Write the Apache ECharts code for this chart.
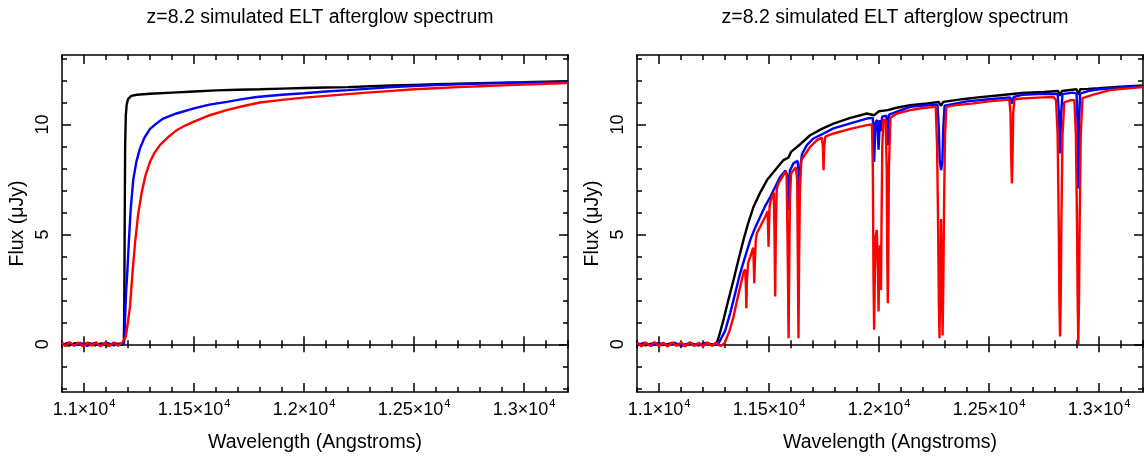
<!DOCTYPE html>
<html><head><meta charset="utf-8">
<script src="https://cdn.jsdelivr.net/npm/echarts@6/dist/echarts.min.js"></script>
<style>html,body{margin:0;padding:0;background:#fff}#c{width:1144px;height:459px}</style>
</head><body><div id="c"></div>
<script>
// ---------------- data (wavelength in Angstroms, flux in microJy) ----------------
const titleText = 'z=8.2 simulated ELT afterglow spectrum';
const xName = 'Wavelength (Angstroms)';
const yName = 'Flux (\u03bcJy)';
const xMajorTicks = [11000, 11500, 12000, 12500, 13000];
const xMinorTicks = [10900, 11100, 11200, 11300, 11400, 11600, 11700, 11800, 11900, 12100, 12200, 12300, 12400, 12600, 12700, 12800, 12900, 13100, 13200];
const yMajorTicks = [0, 5, 10];
const yMinorTicks = [-2, -1, 1, 2, 3, 4, 6, 7, 8, 9, 11, 12, 13];

const leftBlack = [[10900,0.03],[10930,-0.06],[10960,0.05],[10990,-0.04],[11020,0.06],[11050,-0.05],[11080,0.04],[11110,-0.06],[11140,0.05],[11170,-0.03],[11181,0.05],[11183,1.5],[11185,5.5],[11187,9.0],[11190,10.4],[11194,10.9],[11200,11.15],[11215,11.3],[11240,11.35],[11300,11.4],[11400,11.45],[11500,11.5],[11600,11.55],[11700,11.58],[11800,11.6],[11900,11.63],[12000,11.66],[12100,11.68],[12200,11.7],[12300,11.74],[12400,11.77],[12500,11.8],[12600,11.83],[12700,11.86],[12800,11.88],[12900,11.9],[13000,11.92],[13100,11.95],[13200,11.97]];
const leftBlue = [[10900,-0.04],[10925,0.07],[10955,-0.05],[10985,0.06],[11015,-0.07],[11045,0.05],[11075,-0.04],[11105,0.06],[11135,-0.05],[11165,0.04],[11182,0.05],[11186,1.0],[11191,2.3],[11197,3.3],[11204,4.7],[11212,6.1],[11224,7.5],[11238,8.3],[11254,8.9],[11275,9.4],[11300,9.8],[11330,10.05],[11360,10.27],[11420,10.5],[11500,10.73],[11570,10.9],[11650,11.03],[11720,11.15],[11785,11.25],[11900,11.35],[12000,11.42],[12100,11.5],[12200,11.56],[12300,11.63],[12400,11.7],[12500,11.75],[12600,11.79],[12700,11.83],[12800,11.86],[12900,11.88],[13000,11.9],[13100,11.92],[13200,11.94]];
const leftRed = [[10900,0.06],[10915,-0.08],[10935,0.1],[10955,-0.07],[10975,0.09],[10995,-0.1],[11015,0.08],[11035,-0.06],[11055,0.1],[11075,-0.09],[11095,0.07],[11115,-0.08],[11135,0.09],[11155,-0.07],[11175,0.08],[11183,0.05],[11190,0.35],[11198,0.9],[11209,1.7],[11220,3.2],[11232,4.6],[11246,5.9],[11262,6.9],[11280,7.7],[11300,8.3],[11320,8.7],[11345,9.06],[11380,9.4],[11421,9.74],[11460,9.95],[11497,10.12],[11572,10.42],[11648,10.65],[11720,10.83],[11800,11.0],[11900,11.12],[12000,11.22],[12100,11.3],[12200,11.38],[12300,11.46],[12400,11.53],[12500,11.6],[12600,11.65],[12700,11.7],[12800,11.74],[12900,11.78],[13000,11.82],[13100,11.85],[13200,11.88]];

const rightBlack = [[10900,0.04],[10940,-0.05],[10980,0.06],[11020,-0.04],[11060,0.05],[11100,-0.06],[11140,0.04],[11180,-0.05],[11220,0.05],[11250,-0.03],[11262,0.05],[11272,0.35],[11282,0.7],[11293,1.11],[11315,2.0],[11339,2.93],[11360,3.8],[11384,4.75],[11405,5.5],[11430,6.26],[11460,6.9],[11491,7.47],[11530,7.95],[11566,8.38],[11589,8.5],[11600,8.75],[11642,9.1],[11687,9.51],[11740,9.8],[11793,10.04],[11870,10.3],[11945,10.5],[11978,10.42],[12000,10.6],[12040,10.65],[12080,10.76],[12142,10.88],[12220,10.96],[12272,11.02],[12282,10.85],[12292,11.03],[12380,11.15],[12450,11.23],[12550,11.33],[12649,11.43],[12750,11.48],[12815,11.52],[12823,11.3],[12831,11.52],[12898,11.6],[12906,11.35],[12914,11.6],[12950,11.62],[13000,11.65],[13100,11.72],[13200,11.78]];
const rightBlue = [[10900,-0.05],[10930,0.06],[10965,-0.06],[11000,0.05],[11035,-0.05],[11070,0.07],[11105,-0.06],[11140,0.05],[11175,-0.04],[11210,0.06],[11245,-0.05],[11270,0.03],[11278,0.05],[11300,0.6],[11324,1.43],[11347,2.35],[11369,3.24],[11392,4.0],[11415,4.75],[11437,5.3],[11460,5.8],[11483,6.3],[11506,6.71],[11530,7.2],[11551,7.62],[11575,7.9],[11583,7.7],[11589,6.1],[11595,7.9],[11611,8.23],[11630,8.35],[11635,7.8],[11639,6.5],[11644,8.2],[11650,8.65],[11672,9.06],[11700,9.35],[11750,9.6],[11793,9.82],[11870,10.05],[11945,10.27],[11972,10.3],[11978,8.3],[11984,10.1],[11992,10.2],[11998,8.85],[12004,10.2],[12009,9.7],[12014,10.35],[12034,10.4],[12040,9.06],[12046,10.45],[12100,10.65],[12142,10.8],[12200,10.86],[12266,10.9],[12272,9.8],[12276,8.4],[12282,7.92],[12288,8.3],[12292,9.8],[12298,10.85],[12400,11.05],[12500,11.15],[12596,11.23],[12604,10.95],[12612,11.25],[12649,11.35],[12750,11.4],[12812,11.38],[12818,10.5],[12823,8.68],[12828,10.5],[12834,11.38],[12880,11.45],[12898,11.4],[12902,10.2],[12906,7.09],[12910,10.2],[12914,11.4],[12950,11.52],[13000,11.6],[13100,11.68],[13200,11.74]];
const rightRed = [[10900,0.07],[10920,-0.09],[10940,0.08],[10960,-0.07],[10980,0.1],[11000,-0.08],[11020,0.07],[11040,-0.1],[11060,0.09],[11080,-0.07],[11100,0.08],[11120,-0.09],[11140,0.1],[11160,-0.08],[11180,0.07],[11200,-0.09],[11220,0.08],[11240,-0.07],[11260,0.09],[11280,-0.08],[11298,0.05],[11306,0.05],[11320,0.6],[11339,1.26],[11355,2.0],[11369,2.62],[11385,3.3],[11392,3.4],[11395,2.6],[11397,1.64],[11400,2.9],[11405,3.7],[11415,3.99],[11428,4.4],[11431,3.6],[11433,2.78],[11436,3.8],[11440,4.75],[11445,5.05],[11465,5.45],[11483,5.8],[11494,6.05],[11496,5.2],[11498,4.44],[11500,5.4],[11503,6.3],[11510,6.6],[11522,6.9],[11525,5.0],[11528,2.17],[11531,5.0],[11535,7.05],[11543,7.32],[11560,7.6],[11574,7.85],[11580,7.7],[11584,5.0],[11586,3.3],[11589,0.28],[11592,3.5],[11595,6.5],[11600,7.75],[11611,7.92],[11622,8.05],[11628,7.5],[11631,4.0],[11634,0.28],[11637,4.0],[11641,7.5],[11648,8.4],[11657,8.53],[11687,8.98],[11718,9.29],[11740,9.4],[11745,9.0],[11748,7.92],[11751,9.0],[11756,9.45],[11793,9.59],[11870,9.8],[11945,9.97],[11968,10.0],[11972,8.0],[11975,3.0],[11978,0.66],[11981,3.0],[11985,4.9],[11990,5.2],[11995,3.5],[11998,1.49],[12001,3.5],[12004,4.5],[12007,3.0],[12009,2.47],[12011,5.0],[12015,9.0],[12020,10.2],[12030,10.2],[12035,8.0],[12038,3.5],[12040,1.87],[12042,3.5],[12045,8.0],[12052,10.3],[12081,10.5],[12142,10.65],[12200,10.75],[12258,10.8],[12264,9.0],[12268,6.0],[12272,2.0],[12275,0.28],[12278,2.5],[12282,5.7],[12286,2.5],[12289,0.4],[12292,2.5],[12296,6.5],[12300,9.5],[12306,10.8],[12350,10.88],[12422,10.95],[12500,11.05],[12592,11.13],[12598,10.5],[12601,8.5],[12604,7.32],[12607,8.5],[12610,10.5],[12616,11.15],[12649,11.18],[12720,11.22],[12793,11.25],[12805,11.1],[12812,9.5],[12817,5.5],[12820,2.0],[12823,0.35],[12826,2.0],[12829,5.5],[12834,9.5],[12842,11.0],[12869,11.1],[12888,11.1],[12895,9.5],[12900,5.5],[12903,2.0],[12906,0.0],[12909,2.0],[12912,5.5],[12917,9.5],[12925,11.2],[12970,11.35],[13050,11.56],[13120,11.63],[13200,11.7]];

// ---------------- chart ----------------
const X_MIN = 10900, X_MAX = 13200, Y_MIN = -2.17, Y_MAX = 13.16;
const FONT = '"Liberation Sans", Arial, Helvetica, sans-serif';
const FS = 18, FS_NAME = 19.5, FS_TITLE = 19.5;
const grids = [
  {left: 62, top: 55, width: 506, height: 337},
  {left: 637, top: 55, width: 506, height: 337}
];
const lineSt = {color: '#000', width: 1.5};

function mkX(g, position, ticks, len, inside, showLine, withLabel, onZero) {
  const ax = {
    type: 'value', gridIndex: g, position: position, min: X_MIN, max: X_MAX,
    axisLine: {show: showLine, onZero: !!onZero, lineStyle: lineSt},
    axisTick: {show: true, customValues: ticks, length: len, inside: inside, lineStyle: lineSt},
    axisLabel: {show: false},
    splitLine: {show: false}, minorTick: {show: false}, minorSplitLine: {show: false}
  };
  if (onZero) ax.axisLine.onZeroAxisIndex = g * 4;
  if (withLabel) {
    ax.axisLabel = {
      show: true, customValues: ticks, margin: 6, color: '#000',
      fontFamily: FONT, fontSize: FS, lineHeight: 24,
      formatter: function (v) { return (v / 10000).toString() + '\u00d710{s|4}'; },
      rich: {s: {fontSize: 11, fontFamily: FONT, color: '#000', verticalAlign: 'top', lineHeight: 12, padding: [0, 0, 0, 1]}}
    };
    ax.name = xName; ax.nameLocation = 'middle'; ax.nameGap = 41;
    ax.nameTextStyle = {fontFamily: FONT, fontSize: FS_NAME, color: '#000'};
  }
  return ax;
}
function mkY(g, position, ticks, len, showLine, withLabel) {
  const ax = {
    type: 'value', gridIndex: g, position: position, min: Y_MIN, max: Y_MAX,
    axisLine: {show: showLine, onZero: false, lineStyle: lineSt},
    axisTick: {show: true, customValues: ticks, length: len, inside: true, lineStyle: lineSt},
    axisLabel: {show: false},
    splitLine: {show: false}, minorTick: {show: false}, minorSplitLine: {show: false}
  };
  if (withLabel) {
    ax.axisLabel = {show: true, customValues: ticks, rotate: 90, margin: 10, color: '#000',
      fontFamily: FONT, fontSize: FS, formatter: function (v) { return String(v); }};
    ax.name = yName; ax.nameLocation = 'middle'; ax.nameGap = 34;
    ax.nameTextStyle = {fontFamily: FONT, fontSize: FS_NAME, color: '#000'};
  }
  return ax;
}

const xAxes = [], yAxes = [];
for (let g = 0; g < 2; g++) {
  xAxes.push(mkX(g, 'bottom', xMajorTicks, 9, true, true, true, false));
  xAxes.push(mkX(g, 'bottom', xMinorTicks, 5, true, false, false, false));
  xAxes.push(mkX(g, 'top', xMajorTicks, 9, true, true, false, false));
  xAxes.push(mkX(g, 'top', xMinorTicks, 5, true, false, false, false));
  xAxes.push(mkX(g, 'bottom', xMajorTicks, 8, true, true, false, true));
  xAxes.push(mkX(g, 'bottom', xMajorTicks, 8, false, false, false, true));
  xAxes.push(mkX(g, 'bottom', xMinorTicks, 4, true, false, false, true));
  xAxes.push(mkX(g, 'bottom', xMinorTicks, 4, false, false, false, true));
  yAxes.push(mkY(g, 'left', yMajorTicks, 9, true, true));
  yAxes.push(mkY(g, 'left', yMinorTicks, 5, false, false));
  yAxes.push(mkY(g, 'right', yMajorTicks, 9, true, false));
  yAxes.push(mkY(g, 'right', yMinorTicks, 5, false, false));
}

function mkS(g, data, color) {
  return {type: 'line', xAxisIndex: g * 8, yAxisIndex: g * 4, data: data,
    showSymbol: false, symbol: 'none', silent: true, animation: false,
    lineStyle: {color: color, width: 2.4}, itemStyle: {color: color}};
}

const chart = echarts.init(document.getElementById('c'), null, {renderer: 'canvas'});
chart.setOption({
  animation: false,
  backgroundColor: '#fff',
  title: [
    {text: titleText, left: 315, top: 3, textAlign: 'center', textStyle: {fontFamily: FONT, fontSize: FS_TITLE, fontWeight: 'normal', color: '#000'}},
    {text: titleText, left: 890, top: 3, textAlign: 'center', textStyle: {fontFamily: FONT, fontSize: FS_TITLE, fontWeight: 'normal', color: '#000'}}
  ],
  grid: grids,
  xAxis: xAxes,
  yAxis: yAxes,
  series: [
    mkS(0, leftBlack, '#000000'), mkS(0, leftBlue, '#0000ff'), mkS(0, leftRed, '#ff0000'),
    mkS(1, rightBlack, '#000000'), mkS(1, rightBlue, '#0000ff'), mkS(1, rightRed, '#ff0000')
  ]
});
</script></body></html>
